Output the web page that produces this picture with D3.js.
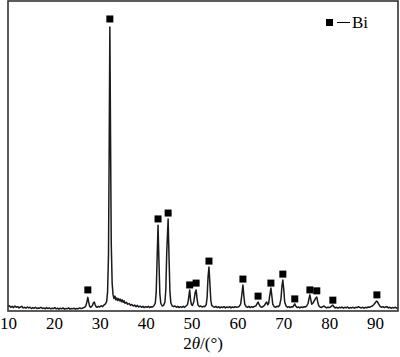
<!DOCTYPE html>
<html><head><meta charset="utf-8">
<script src="https://cdn.jsdelivr.net/npm/d3@7"></script>
<style>body{margin:0;background:#fff}svg{display:block}</style>
</head><body>
<svg id="c" width="400" height="357"></svg>
<script>
const xTicks = [10,20,30,40,50,60,70,80,90];
const pattern = [[10.0,14],[10.3,17],[10.6,12],[10.9,15],[11.2,11],[11.5,16],[11.8,12],[12.1,14],[12.4,10],[12.7,13],[13.0,15],[13.3,10],[13.6,12],[13.9,9],[14.2,13],[14.5,10],[14.8,12],[15.1,8],[15.4,11],[15.7,9],[16.0,12],[16.3,8],[16.6,10],[16.9,9],[17.2,12],[17.5,8],[17.8,10],[18.1,7],[18.4,11],[18.7,8],[19.0,10],[19.3,7],[19.6,9],[19.9,8],[20.2,11],[20.5,7],[20.8,9],[21.1,6],[21.4,9],[21.7,7],[22.0,10],[22.3,6],[22.6,8],[22.9,7],[23.2,10],[23.5,6],[23.8,8],[24.1,7],[24.4,9],[24.7,6],[25.0,8],[25.3,7],[25.6,10],[25.9,8],[26.2,9],[26.5,11],[26.8,13],[27.0,18],[27.2,30],[27.4,44],[27.6,28],[27.8,15],[28.0,12],[28.2,14],[28.4,18],[28.6,26],[28.8,29],[29.0,20],[29.2,14],[29.4,12],[29.7,15],[30.0,13],[30.3,17],[30.6,14],[30.9,19],[31.2,22],[31.5,30],[31.7,60],[31.9,180],[32.05,520],[32.2,916],[32.35,560],[32.5,220],[32.7,90],[32.9,52],[33.1,40],[33.3,48],[33.5,36],[33.7,42],[33.9,34],[34.1,40],[34.3,33],[34.5,38],[34.7,30],[34.9,36],[35.1,28],[35.3,33],[35.5,25],[35.8,28],[36.1,22],[36.4,24],[36.7,18],[37.0,21],[37.3,16],[37.6,19],[37.9,14],[38.2,18],[38.5,13],[38.8,16],[39.1,12],[39.4,15],[39.7,11],[40.0,14],[40.3,12],[40.6,15],[40.9,11],[41.2,14],[41.5,13],[41.8,17],[42.1,25],[42.3,60],[42.5,170],[42.7,277],[42.9,160],[43.1,55],[43.3,25],[43.6,16],[43.9,18],[44.2,28],[44.4,70],[44.6,190],[44.9,297],[45.1,170],[45.3,60],[45.5,26],[45.8,16],[46.1,14],[46.4,16],[46.7,12],[47.0,15],[47.3,11],[47.6,14],[47.9,12],[48.2,15],[48.5,12],[48.8,16],[49.1,20],[49.3,35],[49.6,68],[49.8,34],[50.0,20],[50.2,18],[50.5,30],[50.8,60],[51.0,68],[51.2,40],[51.4,20],[51.7,14],[52.0,16],[52.3,13],[52.6,15],[52.9,14],[53.2,20],[53.4,45],[53.6,110],[53.8,142],[54.0,90],[54.2,35],[54.4,18],[54.7,14],[55.0,12],[55.3,15],[55.6,11],[55.9,14],[56.2,10],[56.5,13],[56.8,11],[57.1,14],[57.4,10],[57.7,13],[58.0,11],[58.3,14],[58.6,10],[58.9,13],[59.2,11],[59.5,14],[59.8,12],[60.1,13],[60.4,15],[60.7,22],[60.9,45],[61.2,84],[61.4,50],[61.6,22],[61.9,14],[62.2,12],[62.5,15],[62.8,11],[63.1,14],[63.4,12],[63.7,15],[64.0,16],[64.3,24],[64.5,29],[64.7,22],[65.0,14],[65.3,12],[65.6,15],[65.9,18],[66.2,26],[66.4,29],[66.6,20],[66.8,24],[67.0,45],[67.3,74],[67.5,50],[67.7,22],[68.0,14],[68.3,12],[68.6,15],[68.9,14],[69.2,18],[69.5,40],[69.7,80],[69.9,100],[70.1,70],[70.3,30],[70.6,16],[70.9,12],[71.2,14],[71.5,11],[71.8,14],[72.1,13],[72.3,18],[72.5,23],[72.7,16],[73.0,11],[73.3,13],[73.6,10],[73.9,13],[74.2,11],[74.5,14],[74.8,13],[75.1,16],[75.4,25],[75.6,40],[75.8,52],[76.0,36],[76.2,22],[76.5,26],[76.8,34],[77.1,42],[77.3,45],[77.5,30],[77.7,18],[78.0,13],[78.3,11],[78.6,14],[78.9,16],[79.1,13],[79.4,10],[79.7,12],[80.0,11],[80.3,13],[80.6,17],[80.8,19],[81.0,14],[81.3,10],[81.6,12],[81.9,9],[82.2,12],[82.5,10],[82.8,13],[83.1,9],[83.4,12],[83.7,10],[84.0,13],[84.3,9],[84.6,11],[84.9,10],[85.2,12],[85.5,9],[85.8,12],[86.1,11],[86.4,14],[86.7,11],[87.0,10],[87.3,12],[87.6,9],[87.9,12],[88.2,10],[88.5,13],[88.8,12],[89.1,14],[89.4,16],[89.7,20],[90.0,26],[90.3,32],[90.5,30],[90.8,22],[91.1,15],[91.4,12],[91.7,14],[92.0,11],[92.3,13],[92.6,14],[92.9,10],[93.2,12],[93.5,9],[93.8,11],[94.1,10],[94.4,12],[94.7,9],[95.0,11]];
const markers = [[27.4,68],[32.2,942],[42.7,297],[44.9,316],[49.6,84],[51.0,90],[53.8,161],[61.2,103],[64.5,48],[67.3,90],[69.9,119],[72.5,39],[75.8,68],[77.3,65],[80.8,35],[90.4,52]];
const legendLabel = "Bi";

const svg = d3.select("#c");
const L=8, R=398, T=1, B=311;
const x = d3.scaleLinear().domain([10,95]).range([L,R]);
const y = d3.scaleLinear().domain([0,1000]).range([B,T]);

svg.append("path").datum(pattern)
  .attr("fill","none").attr("stroke","#1a1a1a").attr("stroke-width",1.5)
  .attr("stroke-linejoin","round")
  .attr("d", d3.line().x(d=>x(d[0])).y(d=>y(d[1])));

const ms = 7;
svg.selectAll("rect.m").data(markers).join("rect").attr("class","m")
  .attr("x", d=>x(d[0])-ms/2).attr("y", d=>y(d[1])-ms/2)
  .attr("width",ms).attr("height",ms).attr("fill","#000");

svg.append("rect").attr("x",L).attr("y",T).attr("width",R-L).attr("height",B-T)
  .attr("fill","none").attr("stroke","#333").attr("stroke-width",1.6);

const ax = svg.append("g").attr("transform",`translate(0,${B})`)
  .call(d3.axisBottom(x).tickValues(xTicks).tickSize(0).tickPadding(6).tickFormat(d3.format("d")));
ax.select(".domain").remove();
ax.selectAll("text").attr("font-family","'Liberation Serif','Times New Roman',serif")
  .attr("font-size",17).attr("fill","#000");

const t = svg.append("text").attr("x",203).attr("y",349).attr("text-anchor","middle")
  .attr("font-family","'Liberation Serif','Times New Roman',serif").attr("font-size",17).attr("fill","#000");
t.append("tspan").text("2");
t.append("tspan").attr("font-style","italic").text("θ");
t.append("tspan").text("/(°)");

// legend
const lg = svg.append("g");
lg.append("rect").attr("x",326).attr("y",19).attr("width",ms).attr("height",ms).attr("fill","#000");
lg.append("line").attr("x1",337).attr("x2",350).attr("y1",22.5).attr("y2",22.5).attr("stroke","#000").attr("stroke-width",1);
lg.append("text").attr("x",352).attr("y",28).attr("font-family","'Liberation Serif','Times New Roman',serif")
  .attr("font-size",17).attr("fill","#000").text(legendLabel);
</script>
</body></html>
